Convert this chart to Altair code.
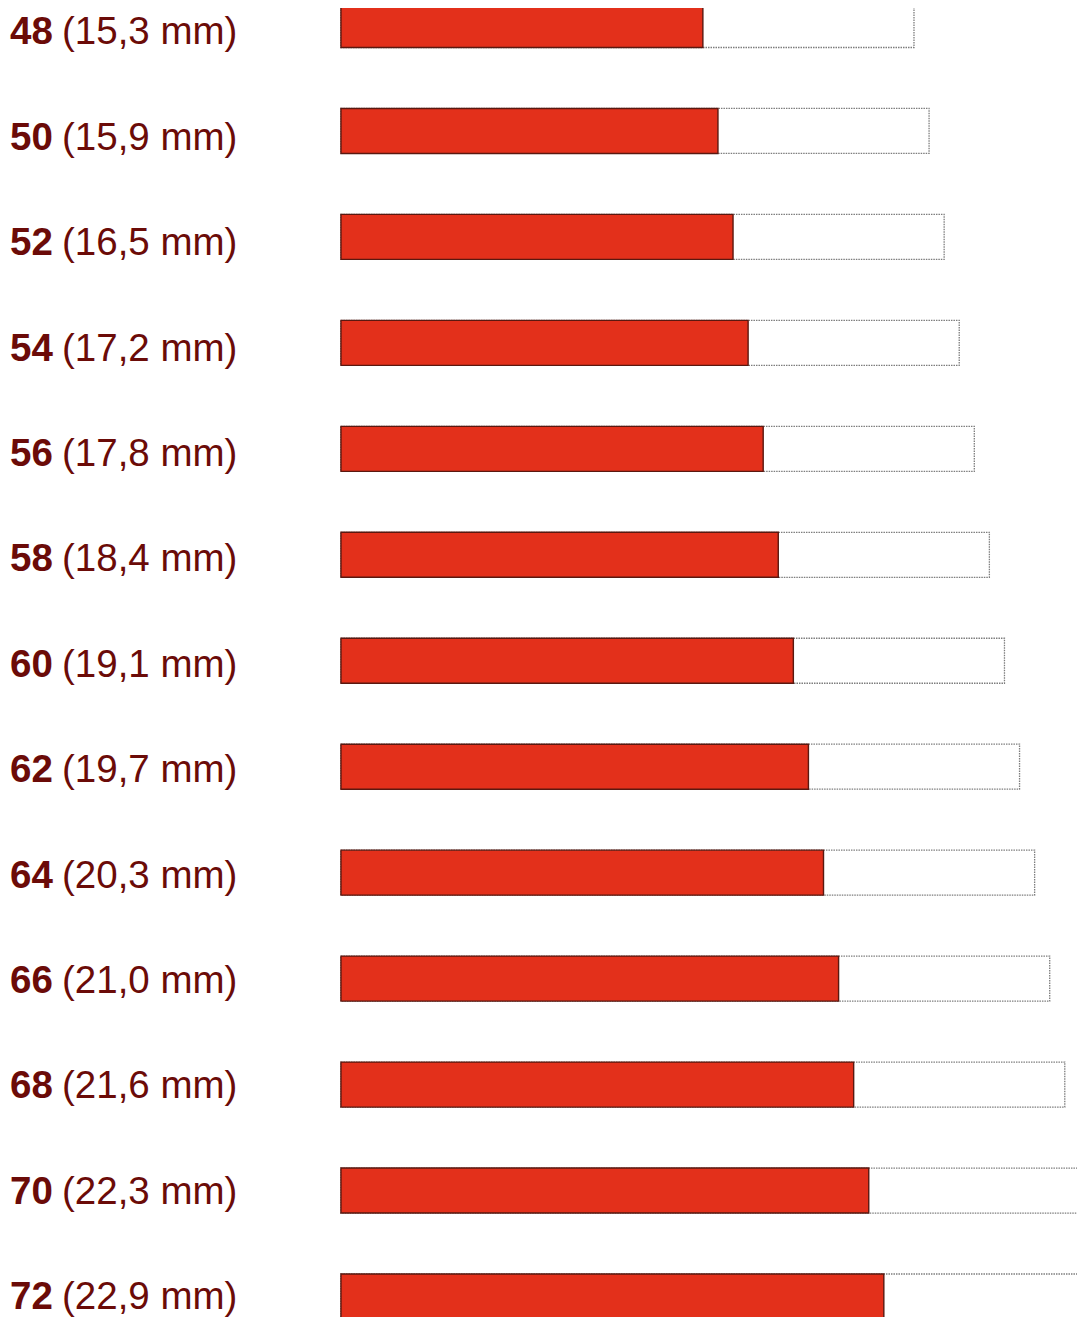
import altair as alt
import pandas as pd

# Ring sizes (inner circumference, mm) and inner diameters
sizes = [48, 50, 52, 54, 56, 58, 60, 62, 64, 66, 68, 70, 72]
diameters = ["15,3", "15,9", "16,5", "17,2", "17,8", "18,4", "19,1",
             "19,7", "20,3", "21,0", "21,6", "22,3", "22,9"]
# length of the outlined (empty) bar, same units as sizes
outer = [76, 78, 80, 82, 84, 86, 88, 90, 92, 94, 96, 98, 100]

df = pd.DataFrame({
    "size": sizes,
    "num": [str(s) for s in sizes],
    "diam": [f"({d} mm)" for d in diameters],
    "outer": outer,
    "zero": [0] * len(sizes),
})

W, H = 1069, 1309
xs = alt.Scale(domain=[-44.16, 97.62], nice=False, zero=False)
ys = alt.Scale(domain=[47.679, 72.387], nice=False, zero=False, reverse=True)
# label rows (baseline positions) follow a slightly different spacing
ys_lab = alt.Scale(domain=[47.31, 72.15], nice=False, zero=False, reverse=True)

base = alt.Chart(df).transform_calculate(
    y0="datum.size - 0.4247", y1="datum.size + 0.4247"
)

outline = base.mark_rect(
    fill="white", stroke="#7d7d7d", strokeWidth=1.3, strokeDash=[1.5, 1]
).encode(
    x=alt.X("zero:Q", scale=xs, axis=None),
    x2="outer:Q",
    y=alt.Y("y0:Q", scale=ys, axis=None),
    y2="y1:Q",
)

red = base.mark_rect(
    fill="#e3301b", stroke="#5a1810", strokeWidth=1.4
).encode(
    x=alt.X("zero:Q", scale=xs, axis=None),
    x2="size:Q",
    y=alt.Y("y0:Q", scale=ys, axis=None),
    y2="y1:Q",
)

num_text = alt.Chart(df).mark_text(
    align="left", baseline="alphabetic", font="Liberation Sans",
    fontSize=38.5, fontWeight="bold", color="#6b0b08"
).encode(
    x=alt.value(2),
    y=alt.Y("size:Q", scale=ys_lab, axis=None),
    text="num:N",
)

diam_text = alt.Chart(df).mark_text(
    align="left", baseline="alphabetic", font="Liberation Sans",
    fontSize=38.5, color="#6b0b08"
).encode(
    x=alt.value(54),
    y=alt.Y("size:Q", scale=ys_lab, axis=None),
    text="diam:N",
)

bars = alt.layer(outline, red)
labels = alt.layer(num_text, diam_text)

chart = alt.layer(bars, labels).resolve_scale(y="independent").properties(
    width=W, height=H, padding=0, autosize=alt.AutoSizeParams(type="none"),
    background="white"
).configure_view(stroke=None)

chart.save("out.html", embed_options={"renderer": "svg", "actions": False})
